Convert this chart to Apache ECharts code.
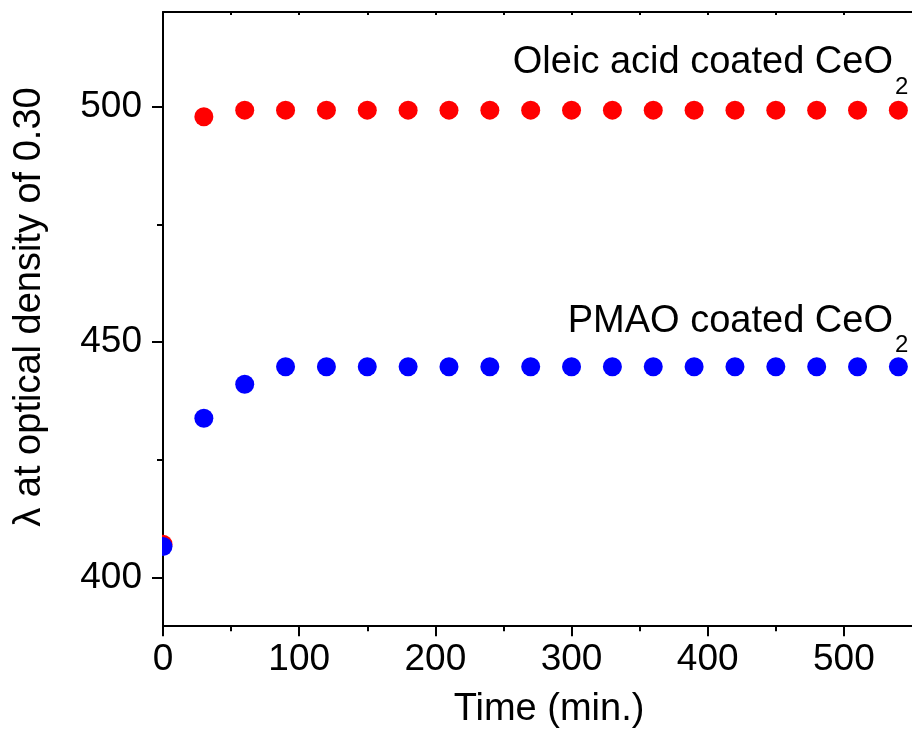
<!DOCTYPE html>
<html>
<head>
<meta charset="utf-8">
<script src="https://cdn.jsdelivr.net/npm/echarts@6/dist/echarts.min.js"></script>
<style>
  html, body { margin: 0; padding: 0; background: #fff; }
  #chart { width: 912px; height: 732px; }
</style>
</head>
<body>
<div id="chart"></div>
<script>
// Time points (min.)
const timeMin = [0, 30, 60, 90, 120, 150, 180, 210, 240, 270, 300, 330, 360, 390, 420, 450, 480, 510, 540];
// Wavelength (nm) at optical density 0.30
const oleicCoated = [407.2, 497.8, 499.2, 499.2, 499.2, 499.2, 499.2, 499.2, 499.2, 499.2, 499.2, 499.2, 499.2, 499.2, 499.2, 499.2, 499.2, 499.2, 499.2];
const pmaoCoated  = [406.7, 433.9, 441.1, 444.8, 444.8, 444.8, 444.8, 444.8, 444.8, 444.8, 444.8, 444.8, 444.8, 444.8, 444.8, 444.8, 444.8, 444.8, 444.8];

// Tick positions
const xMajorTicks = [0, 100, 200, 300, 400, 500];
const xMinorTicks = [50, 150, 250, 350, 450];
const xTopTicks = [0, 50, 100, 150, 200, 250, 300, 350, 400, 450, 500];
const yMajorTicks = [400, 450, 500];
const yMinorTicks = [425, 475];

const X_MIN = 0, X_MAX = 550, Y_MIN = 390, Y_MAX = 520;
const FONT = 'Liberation Sans, Arial, Helvetica, sans-serif';
const lineStyle = { color: '#000', width: 2 };

const GRID = { left: 163, top: 12, width: 754.6, height: 613.3 };

function pairs(xs, ys) { return xs.map((x, i) => [x, ys[i]]); }

const chart = echarts.init(document.getElementById('chart'), null, { renderer: 'canvas' });

const baseX = { type: 'value', min: X_MIN, max: X_MAX, gridIndex: 0, splitLine: { show: false } };
const baseY = { type: 'value', min: Y_MIN, max: Y_MAX, gridIndex: 0, splitLine: { show: false } };

chart.setOption({
  animation: false,
  backgroundColor: '#fff',
  grid: Object.assign({ containLabel: false }, GRID),
  xAxis: [
    Object.assign({}, baseX, {
      position: 'bottom',
      axisLine: { show: true, onZero: false, lineStyle },
      axisTick: { show: true, inside: false, length: 11, lineStyle, customValues: xMajorTicks },
      axisLabel: { show: true, customValues: xMajorTicks, margin: 16, fontSize: 37, color: '#000', fontFamily: FONT }
    }),
    Object.assign({}, baseX, {
      position: 'bottom',
      axisLine: { show: false, onZero: false },
      axisTick: { show: true, inside: false, length: 6, lineStyle, customValues: xMinorTicks },
      axisLabel: { show: false }
    }),
    Object.assign({}, baseX, {
      position: 'top',
      axisLine: { show: true, onZero: false, lineStyle },
      axisTick: { show: true, inside: true, length: 3, lineStyle, customValues: xTopTicks },
      axisLabel: { show: false }
    })
  ],
  yAxis: [
    Object.assign({}, baseY, {
      position: 'left',
      axisLine: { show: true, onZero: false, lineStyle },
      axisTick: { show: true, inside: false, length: 11, lineStyle, customValues: yMajorTicks },
      axisLabel: { show: true, customValues: yMajorTicks, margin: 21, fontSize: 37, color: '#000', fontFamily: FONT }
    }),
    Object.assign({}, baseY, {
      position: 'left',
      axisLine: { show: false, onZero: false },
      axisTick: { show: true, inside: false, length: 6, lineStyle, customValues: yMinorTicks },
      axisLabel: { show: false }
    })
  ],
  series: [
    {
      name: 'Oleic acid coated CeO2',
      type: 'scatter',
      xAxisIndex: 0, yAxisIndex: 0,
      symbol: 'circle', symbolSize: 19,
      itemStyle: { color: '#ff0000', opacity: 1 },
      data: pairs(timeMin, oleicCoated),
      z: 2
    },
    {
      name: 'PMAO coated CeO2',
      type: 'scatter',
      xAxisIndex: 0, yAxisIndex: 0,
      symbol: 'circle', symbolSize: 19,
      itemStyle: { color: '#0000ff', opacity: 1 },
      data: pairs(timeMin, pmaoCoated),
      z: 3
    }
  ],
  graphic: [
    // mask the part of the markers that falls left of the y axis (plot-area clipping)
    { type: 'rect', z: 10, shape: { x: GRID.left - 22, y: 520, width: 21, height: 45 }, style: { fill: '#fff' } },
    // axis titles
    { type: 'text', x: 549, y: 710, style: { text: 'Time (min.)', font: '38px ' + FONT, fill: '#000', align: 'center', verticalAlign: 'middle' } },
    { type: 'text', x: 30, y: 307, rotation: Math.PI / 2, style: { text: 'λ at optical density of 0.30', font: '38px ' + FONT, fill: '#000', align: 'center', verticalAlign: 'middle' } },
    // series annotations
    { type: 'text', x: 893, y: 63, style: { text: 'Oleic acid coated CeO', font: '38px ' + FONT, fill: '#000', align: 'right', verticalAlign: 'middle' } },
    { type: 'text', x: 895, y: 87, style: { text: '2', font: '24px ' + FONT, fill: '#000', align: 'left', verticalAlign: 'middle' } },
    { type: 'text', x: 893, y: 322, style: { text: 'PMAO coated CeO', font: '38px ' + FONT, fill: '#000', align: 'right', verticalAlign: 'middle' } },
    { type: 'text', x: 895, y: 345, style: { text: '2', font: '24px ' + FONT, fill: '#000', align: 'left', verticalAlign: 'middle' } }
  ]
});
</script>
</body>
</html>
